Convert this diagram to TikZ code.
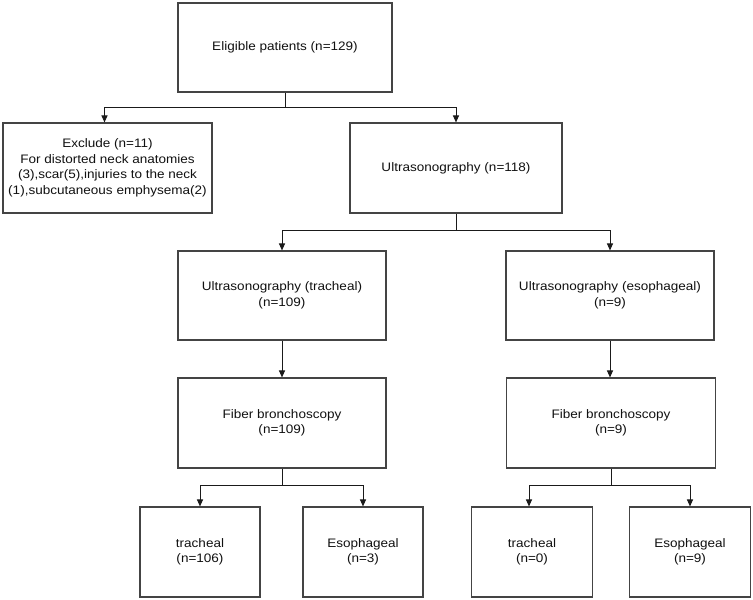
\documentclass[tikz,border=0pt]{standalone}
\usepackage{tikz}
\usetikzlibrary{arrows.meta, calc, positioning}
\usepackage{fontspec}
\setmainfont[FakeStretch=1.1]{Liberation Sans}
\usepackage{xcolor}
\definecolor{BoxLine}{HTML}{444444}
\definecolor{ArrLine}{HTML}{1A1A1A}
\definecolor{TextK}  {HTML}{111111}
\tikzset{
  box/.style args={#1/#2}{
    rectangle, draw=BoxLine, fill=white, text=TextK,
    font=\fontsize{12.3}{15.5}\selectfont, align=center,
    inner sep=2pt, minimum width=#1, minimum height=#2,
    line width=1.1pt,
  },
  arr/.style args={#1}{
    -{Triangle[length=7pt,width=6pt]},
    line width=1pt, color=#1,
  },
  link/.style={
    line width=1pt, color=ArrLine,
  },
}
\begin{document}
\begin{tikzpicture}[x=1pt,y=-1pt]

      \useasboundingbox (0,0) rectangle (753,600);

      \node[box=214pt/89pt] (elig) at (285,47.5) {Eligible patients (n=129)};

      \node[box=209pt/90pt] (excl) at (107.5,168) {Exclude (n=11)\\
        For distorted neck anatomies\\(3),scar(5),injuries to the neck\\
        (1),subcutaneous emphysema(2)};
      \node[box=212pt/90pt] (us) at (456,168) {Ultrasonography (n=118)};

      \node[box=208pt/89pt] (ustr) at (282,295.5)
            {Ultrasonography (tracheal)\\(n=109)};
      \node[box=208pt/89pt] (uses) at (610,295.5)
            {Ultrasonography (esophageal)\\(n=9)};

      \node[box=208pt/90pt] (fbtr) at (282,423) {Fiber bronchoscopy\\(n=109)};
      \node[box=209pt/90pt] (fbes) at (611,423) {Fiber bronchoscopy\\(n=9)};

      \node[box=120pt/90pt] (tra) at (200,552) {tracheal\\(n=106)};
      \node[box=120pt/90pt] (esa) at (363,552) {Esophageal\\(n=3)};
      \node[box=121pt/90pt] (trb) at (532,552) {tracheal\\(n=0)};
      \node[box=121pt/90pt] (esb) at (690,552) {Esophageal\\(n=9)};

      % forks
      \draw[link] (elig.south) -- ++(0,15) coordinate (F1);
      \draw[arr=ArrLine] (F1) -| ([xshift=-3pt]excl.north);
      \draw[arr=ArrLine] (F1) -| (us.north);

      \draw[link] (us.south) -- ++(0,17) coordinate (F2);
      \draw[arr=ArrLine] (F2) -| (ustr.north);
      \draw[arr=ArrLine] (F2) -| (uses.north);

      \draw[arr=ArrLine] (ustr.south) -- (fbtr.north);
      \draw[arr=ArrLine] (uses.south) -- (uses.south |- fbes.north);

      \draw[link] (fbtr.south) -- ++(0,17) coordinate (F3);
      \draw[arr=ArrLine] (F3) -| (tra.north);
      \draw[arr=ArrLine] (F3) -| (esa.north);

      \draw[link] (fbes.south) -- ++(0,17) coordinate (F4);
      \draw[arr=ArrLine] (F4) -| ([xshift=-3pt]trb.north);
      \draw[arr=ArrLine] (F4) -| (esb.north);

    \end{tikzpicture}
\end{document}
